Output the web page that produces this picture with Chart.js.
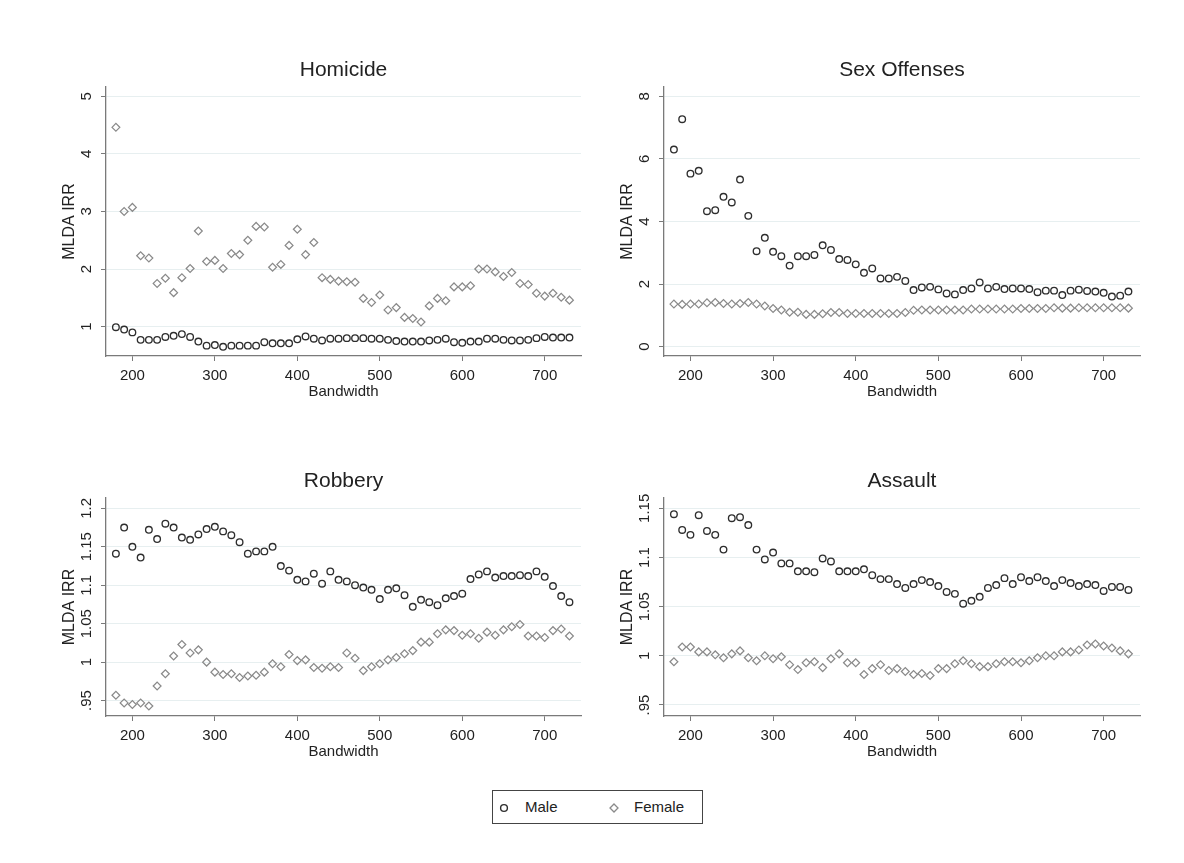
<!DOCTYPE html>
<html>
<head>
<meta charset="utf-8">
<title>MLDA IRR by bandwidth</title>
<script src="https://cdn.jsdelivr.net/npm/chart.js@4.4.1/dist/chart.umd.min.js"></script>
<style>
  html, body { margin: 0; padding: 0; background: #ffffff; }
  body { width: 1184px; height: 863px; position: relative; overflow: hidden;
         font-family: "Liberation Sans", Arial, sans-serif; }
  canvas.panel { position: absolute; }
  #legend { position: absolute; left: 492px; top: 790px; width: 209px; height: 32px;
            border: 1px solid #444; background: #fff; }
  #legend .item { position: absolute; top: 0; height: 32px; line-height: 32px;
                  font-size: 15px; color: #222; }
  #legend svg { position: absolute; top: 11px; }
</style>
</head>
<body>
<canvas id="homicide" class="panel"></canvas>
<canvas id="sex" class="panel"></canvas>
<canvas id="robbery" class="panel"></canvas>
<canvas id="assault" class="panel"></canvas>

<div id="legend">
  <svg width="12" height="12" style="left:5px"><circle cx="6" cy="6" r="3.4" fill="none" stroke="#2e2e2e" stroke-width="1.4"/></svg>
  <span class="item" style="left:32px">Male</span>
  <svg width="12" height="12" style="left:115px"><polygon points="6,2 10,6 6,10 2,6" fill="none" stroke="#8a8a8a" stroke-width="1.3"/></svg>
  <span class="item" style="left:141px">Female</span>
</div>

<script>
// Bandwidth values (x) shared by all four panels
const bandwidth = [180, 190, 200, 210, 220, 230, 240, 250, 260, 270,
                   280, 290, 300, 310, 320, 330, 340, 350, 360, 370,
                   380, 390, 400, 410, 420, 430, 440, 450, 460, 470,
                   480, 490, 500, 510, 520, 530, 540, 550, 560, 570,
                   580, 590, 600, 610, 620, 630, 640, 650, 660, 670,
                   680, 690, 700, 710, 720, 730];
const xTicks = [200, 300, 400, 500, 600, 700];

// Homicide
const homicideMale = [0.99, 0.95, 0.90, 0.77, 0.77, 0.77, 0.82, 0.84, 0.87, 0.82,
                      0.74, 0.67, 0.68, 0.65, 0.67, 0.67, 0.67, 0.67, 0.73, 0.71,
                      0.71, 0.71, 0.78, 0.83, 0.79, 0.76, 0.79, 0.79, 0.80, 0.80,
                      0.80, 0.79, 0.79, 0.77, 0.75, 0.74, 0.74, 0.74, 0.76, 0.77,
                      0.79, 0.73, 0.72, 0.74, 0.74, 0.79, 0.79, 0.77, 0.76, 0.76,
                      0.77, 0.80, 0.82, 0.81, 0.81, 0.81];
const homicideFemale = [4.46, 3.00, 3.07, 2.23, 2.19, 1.75, 1.84, 1.59, 1.85, 2.01,
                        2.66, 2.13, 2.15, 2.01, 2.27, 2.25, 2.50, 2.74, 2.73, 2.03,
                        2.08, 2.41, 2.69, 2.25, 2.46, 1.85, 1.82, 1.79, 1.78, 1.77,
                        1.49, 1.42, 1.55, 1.29, 1.33, 1.16, 1.14, 1.08, 1.36, 1.49,
                        1.45, 1.69, 1.69, 1.71, 2.00, 2.00, 1.95, 1.87, 1.94, 1.75,
                        1.73, 1.58, 1.53, 1.58, 1.51, 1.46];
const homicideYTicks = [1, 2, 3, 4, 5];
const homicideYLabels = ["1", "2", "3", "4", "5"];

// Sex offenses
const sexMale = [6.30, 7.27, 5.53, 5.62, 4.33, 4.36, 4.79, 4.61, 5.34, 4.18,
                 3.05, 3.48, 3.03, 2.89, 2.59, 2.89, 2.89, 2.93, 3.24, 3.09,
                 2.80, 2.77, 2.63, 2.36, 2.50, 2.18, 2.18, 2.23, 2.10, 1.81,
                 1.89, 1.91, 1.83, 1.70, 1.67, 1.81, 1.86, 2.05, 1.86, 1.91,
                 1.84, 1.86, 1.86, 1.84, 1.74, 1.79, 1.79, 1.65, 1.79, 1.82,
                 1.78, 1.76, 1.72, 1.60, 1.63, 1.76];
const sexFemale = [1.36, 1.35, 1.36, 1.36, 1.40, 1.41, 1.38, 1.36, 1.38, 1.41,
                   1.36, 1.30, 1.22, 1.17, 1.10, 1.10, 1.03, 1.03, 1.05, 1.09,
                   1.09, 1.06, 1.06, 1.06, 1.06, 1.06, 1.06, 1.06, 1.09, 1.16,
                   1.17, 1.17, 1.17, 1.17, 1.17, 1.17, 1.20, 1.20, 1.20, 1.20,
                   1.20, 1.20, 1.22, 1.22, 1.22, 1.22, 1.24, 1.23, 1.23, 1.24,
                   1.24, 1.24, 1.24, 1.24, 1.24, 1.23];
const sexYTicks = [0, 2, 4, 6, 8];
const sexYLabels = ["0", "2", "4", "6", "8"];

// Robbery
const robberyMale = [1.141, 1.175, 1.150, 1.136, 1.172, 1.160, 1.180, 1.175, 1.162, 1.159,
                     1.166, 1.173, 1.176, 1.170, 1.165, 1.156, 1.141, 1.144, 1.144, 1.150,
                     1.125, 1.119, 1.107, 1.105, 1.115, 1.102, 1.118, 1.107, 1.105, 1.100,
                     1.097, 1.094, 1.082, 1.094, 1.096, 1.087, 1.072, 1.081, 1.078, 1.074,
                     1.083, 1.086, 1.089, 1.108, 1.114, 1.118, 1.110, 1.112, 1.112, 1.113,
                     1.112, 1.118, 1.111, 1.099, 1.086, 1.078];
const robberyFemale = [0.957, 0.947, 0.945, 0.947, 0.943, 0.969, 0.985, 1.008, 1.023, 1.012,
                       1.016, 1.000, 0.987, 0.984, 0.985, 0.980, 0.982, 0.983, 0.987, 0.998,
                       0.994, 1.010, 1.002, 1.003, 0.993, 0.992, 0.994, 0.993, 1.012, 1.005,
                       0.989, 0.994, 0.998, 1.003, 1.006, 1.011, 1.015, 1.026, 1.026, 1.037,
                       1.042, 1.041, 1.035, 1.037, 1.031, 1.039, 1.035, 1.042, 1.046, 1.049,
                       1.034, 1.034, 1.032, 1.041, 1.043, 1.034];
const robberyYTicks = [0.95, 1, 1.05, 1.1, 1.15, 1.2];
const robberyYLabels = [".95", "1", "1.05", "1.1", "1.15", "1.2"];

// Assault
const assaultMale = [1.144, 1.128, 1.123, 1.143, 1.127, 1.123, 1.108, 1.140, 1.141, 1.133,
                     1.108, 1.098, 1.105, 1.094, 1.094, 1.086, 1.086, 1.085, 1.099, 1.096,
                     1.086, 1.086, 1.086, 1.088, 1.082, 1.078, 1.078, 1.073, 1.069, 1.073,
                     1.077, 1.075, 1.071, 1.065, 1.063, 1.053, 1.056, 1.060, 1.069, 1.072,
                     1.079, 1.073, 1.080, 1.076, 1.080, 1.076, 1.071, 1.077, 1.074, 1.071,
                     1.073, 1.072, 1.066, 1.070, 1.070, 1.067];
const assaultFemale = [0.994, 1.009, 1.009, 1.004, 1.004, 1.001, 0.998, 1.002, 1.005, 0.998,
                       0.995, 1.000, 0.997, 0.999, 0.991, 0.986, 0.993, 0.994, 0.988, 0.997,
                       1.002, 0.993, 0.993, 0.981, 0.987, 0.991, 0.985, 0.987, 0.984, 0.981,
                       0.982, 0.980, 0.987, 0.987, 0.992, 0.995, 0.992, 0.989, 0.989, 0.992,
                       0.994, 0.994, 0.993, 0.995, 0.998, 1.000, 1.000, 1.004, 1.004, 1.006,
                       1.011, 1.012, 1.010, 1.008, 1.005, 1.002];
const assaultYTicks = [0.95, 1, 1.05, 1.1, 1.15];
const assaultYLabels = [".95", "1", "1.05", "1.1", "1.15"];

const FONT = '"Liberation Sans", Arial, Helvetica, sans-serif';
const TEXT = '#222222';
const AXIS = '#7a7a7a';
const GRID = '#e7eff0';

// Titles, tick labels and axis titles drawn around each plot area
const panelText = {
  id: 'panelText',
  afterDraw(chart, args, opts) {
    const { ctx, chartArea: a } = chart;
    const xs = chart.scales.x, ys = chart.scales.y;
    const cx = (a.left + a.right) / 2;
    ctx.save();
    ctx.fillStyle = TEXT;
    ctx.textAlign = 'center';
    ctx.textBaseline = 'middle';

    ctx.font = '21px ' + FONT;
    ctx.fillText(opts.title, cx, a.top - 17);

    ctx.font = '15px ' + FONT;
    opts.xTicks.forEach(v => ctx.fillText(String(v), xs.getPixelForValue(v), a.bottom + 20));
    ctx.fillText(opts.xTitle, cx, a.bottom + 36);

    opts.yTicks.forEach((v, i) => {
      ctx.save();
      ctx.translate(a.left - 19, ys.getPixelForValue(v));
      ctx.rotate(-Math.PI / 2);
      ctx.fillText(opts.yLabels[i], 0, 0);
      ctx.restore();
    });

    ctx.save();
    ctx.font = '16px ' + FONT;
    ctx.translate(a.left - 36, (a.top + a.bottom) / 2);
    ctx.rotate(-Math.PI / 2);
    ctx.fillText(opts.yTitle, 0, 0);
    ctx.restore();

    ctx.restore();
  }
};

function points(ys) {
  return bandwidth.map((b, i) => ({ x: b, y: ys[i] }));
}

function makePanel(id, geom, title, male, female, yMin, yMax, yTicks, yLabels) {
  const canvas = document.getElementById(id);
  const plotW = geom.right - geom.left, plotH = geom.bottom - geom.top;
  canvas.width = plotW + 110;
  canvas.height = plotH + 110;
  canvas.style.left = (geom.left - 100) + 'px';
  canvas.style.top = (geom.top - 50) + 'px';
  canvas.style.width = canvas.width + 'px';
  canvas.style.height = canvas.height + 'px';

  new Chart(canvas, {
    type: 'scatter',
    data: {
      datasets: [
        { label: 'Male', data: points(male), pointStyle: 'circle', pointRadius: 3.3,
          borderColor: '#2e2e2e', backgroundColor: 'rgba(0,0,0,0)', borderWidth: 1.35 },
        { label: 'Female', data: points(female), pointStyle: 'rectRot', pointRadius: 3.9,
          borderColor: '#8a8a8a', backgroundColor: 'rgba(0,0,0,0)', borderWidth: 1.25 }
      ]
    },
    plugins: [panelText],
    options: {
      responsive: false,
      animation: false,
      events: [],
      devicePixelRatio: 1,
      layout: { padding: { left: 0, top: 50, right: 10, bottom: 0 }, autoPadding: false },
      plugins: {
        legend: { display: false },
        tooltip: { enabled: false },
        title: { display: false },
        panelText: { title, xTicks, xTitle: 'Bandwidth', yTicks, yLabels, yTitle: 'MLDA IRR' }
      },
      scales: {
        x: {
          type: 'linear', min: 168, max: 744,
          afterBuildTicks: s => { s.ticks = xTicks.map(v => ({ value: v })); },
          afterFit: s => { s.height = 60; },
          ticks: { display: false },
          grid: { drawOnChartArea: false, drawTicks: true, tickLength: 5, color: AXIS, tickColor: AXIS, lineWidth: 1 },
          border: { display: true, color: AXIS, width: 1.3 }
        },
        y: {
          type: 'linear', min: yMin, max: yMax,
          afterBuildTicks: s => { s.ticks = yTicks.map(v => ({ value: v })); },
          afterFit: s => { s.width = 100; },
          ticks: { display: false },
          grid: { drawOnChartArea: true, drawTicks: true, tickLength: 5, color: GRID, tickColor: AXIS, lineWidth: 1 },
          border: { display: true, color: AXIS, width: 1.3 }
        }
      }
    }
  });
}

makePanel('homicide', { left: 106, top: 87, right: 581, bottom: 356 }, 'Homicide',
          homicideMale, homicideFemale, 0.49, 5.16, homicideYTicks, homicideYLabels);
makePanel('sex', { left: 664, top: 87, right: 1140, bottom: 356 }, 'Sex Offenses',
          sexMale, sexFemale, -0.3, 8.3, sexYTicks, sexYLabels);
makePanel('robbery', { left: 106, top: 498, right: 581, bottom: 716 }, 'Robbery',
          robberyMale, robberyFemale, 0.930, 1.2134, robberyYTicks, robberyYLabels);
makePanel('assault', { left: 664, top: 498, right: 1140, bottom: 716 }, 'Assault',
          assaultMale, assaultFemale, 0.9388, 1.1605, assaultYTicks, assaultYLabels);
</script>
</body>
</html>
